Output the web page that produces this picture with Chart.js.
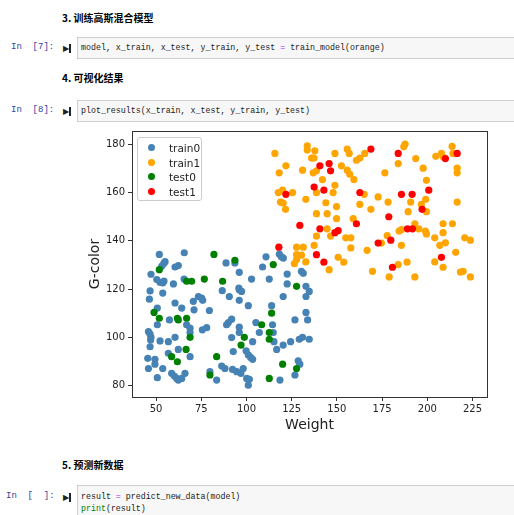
<!DOCTYPE html>
<html>
<head>
<meta charset="utf-8">
<script src="https://cdn.jsdelivr.net/npm/chart.js@4"></script>
<style>
body{margin:0;background:#fff;width:514px;height:515px;overflow:hidden;position:relative;font-family:"DejaVu Sans",sans-serif}
.h{position:absolute;left:62px;font:bold 10px "Noto Sans CJK SC","Noto Sans",sans-serif;color:#000}
.prompt{position:absolute;left:11px;font:9px "Liberation Mono",monospace;color:#303f9f}
.icon{position:absolute;left:63px;font:bold 8px "DejaVu Sans";color:#222;border-right:2px solid #222;padding-right:0;line-height:9px;height:9px}
.cell{position:absolute;left:77px;right:-2px;background:#f7f7f7;border:1px solid #cfcfcf;font:8.3px "Liberation Mono",monospace;color:#222;padding:0 3px;white-space:pre;box-sizing:border-box}
.op{color:#a2f}.kw{color:#008000}
#wrap{position:absolute;left:78px;top:120px;width:420px;height:320px}
#leg{position:absolute;left:137px;top:137px;width:65px;height:64px;border:1px solid #ccc;border-radius:3px;background:rgba(255,255,255,.85);font:10.5px "DejaVu Sans";color:#222;box-sizing:border-box}
#leg div{position:absolute;left:0;height:14px;line-height:14px}
#leg i{position:absolute;left:10px;top:3px;width:7px;height:7px;border-radius:50%}
#leg span{position:absolute;left:31px}
</style>
</head>
<body>
<div class="h" style="top:10px">3. 训练高斯混合模型</div>
<div class="prompt" style="top:42px">In&nbsp;&nbsp;[7]:</div>
<div class="icon" style="top:44px">&#9654;</div>
<div class="cell" style="top:37px;height:22px;line-height:20px">model, x_train, x_test, y_train, y_test <span class="op">=</span> train_model(orange)</div>
<div class="h" style="top:70px">4. 可视化结果</div>
<div class="prompt" style="top:105px">In&nbsp;&nbsp;[8]:</div>
<div class="icon" style="top:107px">&#9654;</div>
<div class="cell" style="top:100px;height:22px;line-height:20px">plot_results(x_train, x_test, y_train, y_test)</div>
<div id="wrap"><canvas id="c" width="420" height="320"></canvas></div>
<div id="leg">
  <div style="top:3px"><i style="background:steelblue"></i><span>train0</span></div>
  <div style="top:17.5px"><i style="background:orange"></i><span>train1</span></div>
  <div style="top:32px"><i style="background:green"></i><span>test0</span></div>
  <div style="top:46.5px"><i style="background:red"></i><span>test1</span></div>
</div>
<div class="h" style="top:457px">5. 预测新数据</div>
<div class="prompt" style="top:491px;left:6px">In&nbsp;&nbsp;[&nbsp;&nbsp;]:</div>
<div class="icon" style="top:493px">&#9654;</div>
<div class="cell" style="top:485px;height:40px;line-height:12px;padding-top:5px">result <span class="op">=</span> predict_new_data(model)
<span class="kw">print</span>(result)</div>
<script>
const xTicks = [50, 75, 100, 125, 150, 175, 200, 225];
const yTicks = [80, 100, 120, 140, 160, 180];

const train0 = [
  [51.8,134.3],[53.2,129.5],[54.3,130.6],[55.0,131.3],[60.5,129.1],[62.3,129.7],[65.6,135.0],[47.2,126.1],
  [50.4,123.9],[52.2,122.8],[53.7,122.5],[54.4,123.3],[59.6,122.1],[65.5,124.1],[46.7,119.2],[46.3,115.8],
  [53.7,118.3],[50.7,112.1],[60.5,114.2],[64.2,112.1],[70.6,114.9],[71.0,111.4],[73.4,116.9],[75.2,116.2],
  [75.8,115.3],[79.5,111.1],[57.4,107.2],[66.9,105.2],[68.8,103.8],[68.8,102.0],[50.7,105.2],[45.8,102.4],
  [46.7,101.3],[47.2,100.0],[47.0,98.9],[46.7,96.1],[52.2,98.5],[56.8,98.2],[60.5,100.0],[62.3,95.0],
  [68.8,92.0],[78.0,104.0],[75.6,103.1],[56.8,93.4],[45.4,91.3],[49.4,90.9],[49.4,88.9],[53.7,87.1],
  [45.8,87.1],[50.7,83.3],[58.6,85.1],[60.1,84.0],[61.4,83.0],[62.3,82.3],[64.2,83.0],[66.0,85.1],
  [79.8,85.8],[83.5,82.3],[86.3,88.1],[88.1,87.1],[88.7,130.8],[93.6,130.8],[96.0,126.9],[86.6,119.3],
  [90.5,116.9],[96.0,115.3],[96.0,119.7],[97.3,119.0],[95.8,120.4],[91.8,107.5],[90.0,106.1],[89.0,105.2],
  [96.0,104.2],[96.0,102.0],[91.8,99.9],[92.7,94.1],[92.3,86.7],[94.6,85.8],[98.2,87.1],[96.9,85.1],
  [99.8,94.4],[100.1,83.0],[101.6,82.6],[101.0,80.2],[102.8,124.1],[110.8,133.3],[108.9,129.1],[118.2,134.4],
  [119.3,133.3],[120.4,132.8],[112.6,124.1],[122.5,126.2],[122.5,122.1],[130.4,127.3],[131.4,126.5],[101.0,113.1],
  [120.3,116.9],[132.9,121.1],[134.7,119.0],[132.9,116.9],[113.9,113.1],[132.9,110.3],[133.8,107.2],[126.8,107.2],
  [105.2,106.1],[107.1,102.0],[114.4,105.2],[114.8,102.0],[103.4,98.2],[115.2,98.2],[120.3,96.8],[124.4,98.2],
  [129.2,99.2],[131.0,100.0],[134.7,99.2],[116.7,95.0],[101.0,92.7],[102.3,91.7],[103.4,90.9],[118.5,82.3],
  [128.6,90.3],[129.5,88.9],[126.8,84.4]
];
const train1 = [
  [115.7,176.1],[133.6,179.3],[133.6,177.5],[137.8,177.2],[136.0,174.2],[137.3,174.2],[148.9,176.1],[155.7,177.9],
  [156.8,176.1],[160.8,173.3],[162.7,174.2],[165.4,176.1],[187.0,178.9],[187.7,180.0],[193.6,174.0],[204.7,174.9],
  [207.8,176.1],[208.7,174.7],[213.7,179.0],[214.2,176.1],[121.8,171.0],[118.1,168.1],[131.0,169.2],[136.9,168.1],
  [138.7,168.9],[142.0,165.3],[152.5,171.0],[155.7,169.2],[157.1,167.5],[159.4,165.3],[176.5,168.1],[183.9,171.9],
  [197.7,170.0],[216.5,170.0],[216.5,168.1],[199.5,165.0],[117.6,159.9],[120.0,160.9],[125.5,159.9],[148.9,162.9],
  [147.9,159.9],[138.7,159.9],[165.1,159.2],[132.8,157.1],[118.8,156.0],[120.3,155.6],[121.6,153.0],[143.9,155.7],
  [149.8,154.1],[162.7,155.0],[172.8,158.1],[178.3,156.0],[199.1,157.1],[190.8,156.0],[196.7,155.0],[199.5,152.0],
  [189.4,152.0],[216.5,156.0],[168.8,153.0],[138.7,151.2],[144.6,151.2],[149.8,149.1],[159.0,149.1],[144.6,144.9],
  [138.7,141.9],[146.5,141.9],[154.9,141.2],[157.7,141.2],[157.7,137.0],[174.6,139.0],[177.8,142.1],[185.7,138.1],
  [184.4,144.0],[185.7,144.6],[193.1,147.0],[195.3,144.9],[198.9,144.0],[199.5,142.8],[204.1,141.2],[208.7,147.0],
  [213.9,147.0],[208.7,143.3],[210.0,139.1],[206.9,138.1],[220.7,141.2],[223.8,140.2],[215.7,135.2],[204.1,131.2],
  [208.7,129.0],[218.3,127.0],[219.8,127.3],[223.8,125.0],[193.1,125.0],[188.8,131.1],[183.9,130.1],[178.9,125.0],
  [169.7,127.3],[166.7,136.0],[153.8,131.1],[150.7,133.1],[145.7,128.0],[132.8,131.2],[127.7,137.3],[127.7,134.2],
  [127.7,132.2],[131.4,137.3],[130.4,134.0],[137.4,138.1],[126.5,130.5]
];
const test0 = [
  [51.8,128.0],[82.0,134.3],[93.6,131.9],[76.7,124.1],[66.9,123.2],[69.7,123.2],[86.8,123.2],[48.9,110.3],
  [51.8,107.9],[62.3,107.2],[61.8,107.9],[66.9,107.9],[68.8,100.0],[66.6,95.0],[58.6,92.0],[61.8,89.9],
  [83.5,92.0],[79.8,84.4],[98.8,100.0],[97.0,96.8],[114.8,130.1],[127.7,121.1],[113.9,110.0],[108.4,105.2],
  [112.6,102.0],[112.6,99.2],[120.0,88.9],[127.7,87.1],[112.6,83.0]
];
const test1 = [
  [168.8,177.9],[183.9,176.1],[210.0,174.0],[216.5,176.1],[140.6,171.0],[145.7,171.9],[146.5,168.9],[137.4,162.2],
  [142.8,160.9],[121.8,159.2],[162.7,159.9],[185.7,159.2],[191.6,159.2],[200.8,160.9],[197.1,153.0],[178.7,149.9],
  [160.8,147.0],[129.5,146.3],[140.6,144.9],[148.9,143.3],[150.7,144.2],[172.8,139.0],[179.8,140.2],[189.0,144.9],
  [191.8,144.9],[207.8,133.1],[180.7,129.0],[142.8,131.1],[138.7,134.2],[117.9,137.3]
];

const pts = a => a.map(p => ({x: p[0], y: p[1]}));
const ds = (label, data, color, order) => ({label, data: pts(data), backgroundColor: color, borderWidth: 0, pointRadius: 3.6, pointHoverRadius: 3.6, order});

// box round the plot, like matplotlib spines
const frame = {
  id: 'frame',
  afterDraw(chart){
    const {ctx, chartArea: a} = chart;
    ctx.save();
    ctx.strokeStyle = '#333';
    ctx.lineWidth = 1;
    ctx.strokeRect(Math.round(a.left) + 0.5, Math.round(a.top) + 0.5, Math.round(a.right - a.left), Math.round(a.bottom - a.top));
    ctx.restore();
  }
};

const tickFont = {family: 'DejaVu Sans', size: 10};
new Chart(document.getElementById('c'), {
  type: 'scatter',
  data: {datasets: [
    ds('train0', train0, 'steelblue', 3),
    ds('train1', train1, 'orange', 2),
    ds('test0', test0, 'green', 1),
    ds('test1', test1, 'red', 0)
  ]},
  options: {
    responsive: false,
    animation: false,
    events: [],
    layout: {padding: {top: 11, right: 11, left: 0, bottom: 0}},
    plugins: {legend: {display: false}, tooltip: {enabled: false}},
    scales: {
      x: {
        type: 'linear', min: 36.7, max: 233,
        afterBuildTicks: s => { s.ticks = xTicks.map(v => ({value: v})); },
        afterFit: s => { s.height = 43; },
        grid: {drawOnChartArea: false, drawTicks: true, tickLength: 4, tickColor: '#333'},
        border: {display: false},
        ticks: {font: tickFont, color: '#222', padding: 2, maxRotation: 0},
        title: {display: true, text: 'Weight', font: {family: 'DejaVu Sans', size: 14}, color: '#222', padding: {top: 0, bottom: 6}}
      },
      y: {
        type: 'linear', min: 75.3, max: 185.4,
        afterBuildTicks: s => { s.ticks = yTicks.map(v => ({value: v})); },
        afterFit: s => { s.width = 54; },
        grid: {drawOnChartArea: false, drawTicks: true, tickLength: 4, tickColor: '#333'},
        border: {display: false},
        ticks: {font: tickFont, color: '#222', padding: 3},
        title: {display: true, text: 'G-color', font: {family: 'DejaVu Sans', size: 14}, color: '#222', padding: {top: 9, bottom: 0}}
      }
    }
  },
  plugins: [frame]
});
</script>
</body>
</html>
